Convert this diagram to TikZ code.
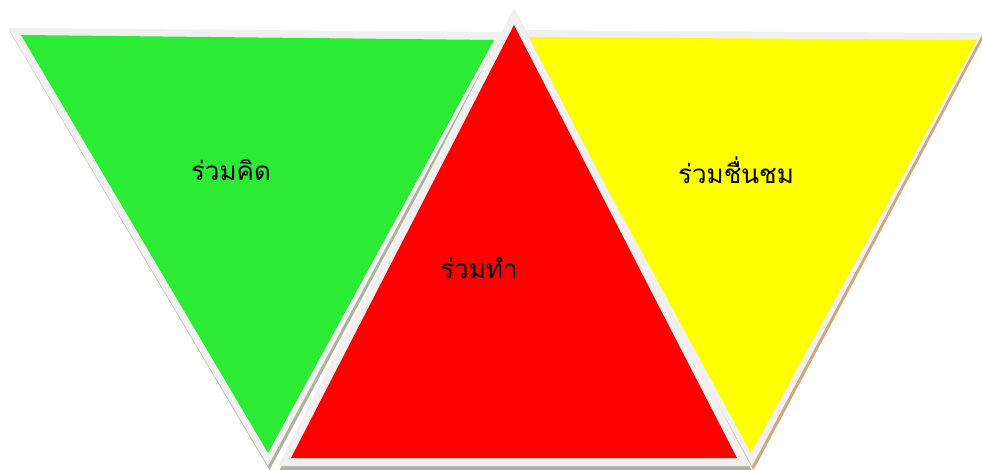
\documentclass[tikz,border=0pt]{standalone}
\usepackage{fontspec}
\newfontfamily\thaifont[Script=Thai]{Loma}
\definecolor{gborder}{HTML}{F0F0F0}
\definecolor{gfill}{RGB}{43,235,52}
\definecolor{rfill}{HTML}{FF0000}
\definecolor{yfill}{HTML}{FFFF00}
\definecolor{shgreen}{HTML}{AEB39C}
\definecolor{shtan}{HTML}{D2A67E}
\tikzset{
  tribord/.style={fill=gborder},
  lbl/.style={font=\thaifont\fontsize{26}{30}\selectfont, text=black, inner sep=0pt}
}
\begin{document}
\begin{tikzpicture}[x=1pt,y=-1pt]
\useasboundingbox (0,0) rectangle (982,470);
% green
\fill[shgreen] (9.5,31) -- (503.5,35) -- (269.5,470) -- cycle;
\fill[tribord] (8,28) -- (502,32) -- (268,466) -- cycle;
\fill[gfill] (21,35) -- (494,40) -- (268,453) -- cycle;
% yellow
\fill[shtan] (513.5,33) -- (984.5,36) -- (753.5,470) -- cycle;
\fill[tribord] (512,30) -- (983,33) -- (752,466) -- cycle;
\fill[yfill] (525,37) -- (977,40) -- (751,453) -- cycle;
% red
\fill[shgreen] (515.5,11) -- (279.5,470) -- (751.5,470) -- cycle;
\fill[tribord] (514,8) -- (278,466) -- (750,466) -- cycle;
\fill[rfill] (514,25) -- (291,458) -- (737,458) -- cycle;
% labels
\node[lbl] (t1) at (231,170) {ร่วมคิด};
\node[lbl] (t2) at (479,268) {ร่วมทำ};
\node[lbl] (t3) at (736,170) {ร่วมชื่นชม};
\end{tikzpicture}
\end{document}
